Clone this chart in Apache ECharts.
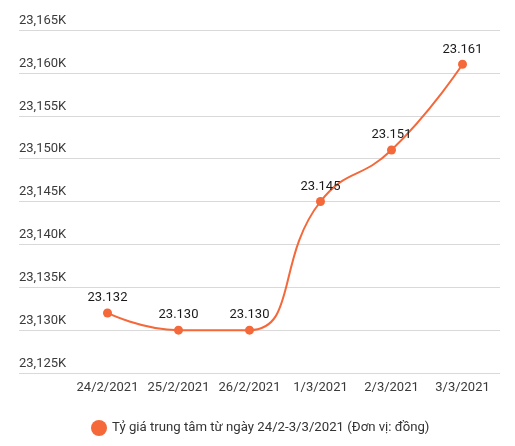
<!DOCTYPE html>
<html>
<head>
<meta charset="utf-8">
<script src="https://cdn.jsdelivr.net/npm/echarts@6/dist/echarts.min.js"></script>
<style>
  html, body { margin: 0; padding: 0; background: #fff; }
  #main { width: 515px; height: 446px; }
</style>
</head>
<body>
<div id="main"></div>
<script>
var categories = ['24/2/2021', '25/2/2021', '26/2/2021', '1/3/2021', '2/3/2021', '3/3/2021'];
var rates = [23132, 23130, 23130, 23145, 23151, 23161];
var seriesName = 'Tỷ giá trung tâm từ ngày 24/2-3/3/2021 (Đơn vị: đồng)';
var yMin = 23125;
var yMax = 23165;
var yStep = 5;

var chart = echarts.init(document.getElementById('main'));
var font = 'Roboto, Arial, sans-serif';
var color = '#f4683a';

var option = {
  animation: false,
  legend: {
    bottom: 5,
    left: 86,
    icon: 'circle',
    itemWidth: 16,
    itemHeight: 16,
    itemGap: 6,
    textStyle: { fontFamily: font, fontSize: 13.2, color: '#333' },
    data: [seriesName]
  },
  grid: [
    // background lines + y labels
    { left: 19, right: 15, top: 30, bottom: 73 },
    // the data itself
    { left: 72, right: 17, top: 30, bottom: 73 }
  ],
  xAxis: [
    { gridIndex: 0, type: 'value', min: 0, max: 1, show: false },
    {
      gridIndex: 1,
      type: 'category',
      data: categories,
      axisLine: { show: false },
      axisTick: { show: false },
      axisLabel: { interval: 0, fontFamily: font, fontSize: 13, color: '#3a3a3a', margin: 8 }
    }
  ],
  yAxis: [
    {
      gridIndex: 0,
      type: 'value',
      min: yMin,
      max: yMax,
      interval: yStep,
      axisLine: { show: false },
      axisTick: { show: false },
      splitLine: { lineStyle: { color: '#d9d9d9', width: 1 } },
      axisLabel: {
        inside: true,
        margin: 0,
        verticalAlign: 'bottom',
        padding: [0, 0, 3, 0],
        fontFamily: font,
        fontSize: 13,
        color: '#3a3a3a',
        formatter: function (v) {
          return v.toLocaleString('en-US') + 'K';
        }
      }
    },
    { gridIndex: 1, type: 'value', min: yMin, max: yMax, interval: yStep, show: false }
  ],
  series: [
    {
      name: seriesName,
      type: 'line',
      xAxisIndex: 1,
      yAxisIndex: 1,
      smooth: true,
      data: rates,
      symbol: 'circle',
      symbolSize: 9,
      itemStyle: { color: color },
      lineStyle: { color: color, width: 2 },
      label: {
        show: true,
        position: 'top',
        distance: 4,
        fontFamily: font,
        fontSize: 13,
        color: '#1a1a1a',
        formatter: function (p) {
          return (p.value / 1000).toFixed(3);
        }
      }
    }
  ]
};

chart.setOption(option);
</script>
</body>
</html>
